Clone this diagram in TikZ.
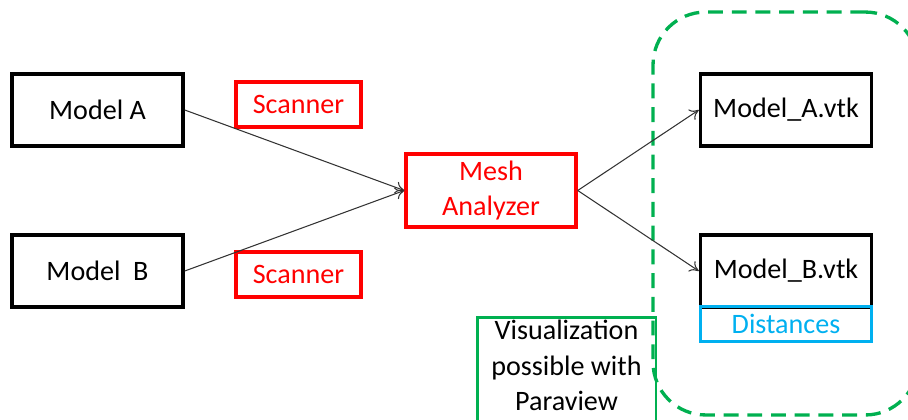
\documentclass[tikz,border=0pt]{standalone}
\usepackage{fontspec}
\setmainfont{Carlito}
\usetikzlibrary{arrows.meta}
\definecolor{offgreen}{RGB}{0,176,80}
\definecolor{offblue}{RGB}{0,176,240}
\begin{document}
\begin{tikzpicture}[
    x=0.02cm,
    y=-0.02cm,
    font=\fontsize{16}{20}\selectfont,
    modelbox/.style={draw=black, line width=2pt, minimum width=3.42cm, minimum height=1.44cm, inner sep=0pt},
    toolbox/.style={draw=red, text=red, line width=2pt, inner sep=0pt, align=center},
    link/.style={-{To[length=5pt,width=7pt]}, line width=0.6pt, black!80}
]

    % Fix the page size
    \useasboundingbox (0,0) rectangle (908,419);

    % Draw the group for Paraview
    \node[draw=offgreen, line width=1.9pt, dash pattern=on 8.5pt off 5pt, rounded corners=30pt,
          minimum width=5.3cm, minimum height=8.06cm] (group) at (785.5,213.5) {};

    % Input models
    \node[modelbox] (modelA) at (97.5,110) {Model A};
    \node[modelbox] (modelB) at (97.5,271) {Model\ \ B};

    % Scanners and analyzer
    \node[toolbox, minimum width=2.5cm, minimum height=0.9cm] (scanA) at (298.5,104.5) {Scanner};
    \node[toolbox, minimum width=2.5cm, minimum height=0.9cm] (scanB) at (298.5,274.5) {Scanner};
    \node[toolbox, minimum width=3.4cm, minimum height=1.46cm] (mesh) at (491,190.5) {Mesh\\Analyzer};

    % Output files
    \node[modelbox] (vtkA) at (786,110) {Model\_A.vtk};
    \node[modelbox] (vtkB) at (786,271) {Model\_B.vtk};
    \node[draw=offblue, text=offblue, line width=1.9pt, minimum width=3.42cm, minimum height=0.7cm,
          inner sep=0pt] (dist) at (786,324) {Distances};

    % Note on visualization
    \node[draw=offgreen, line width=1.7pt, minimum width=3.58cm, minimum height=2.3cm, inner sep=0pt,
          align=center, anchor=north] (note) at (566.5,316) {};
    \node[align=center, anchor=north, inner sep=0pt] (notetext) at (566.5,320) {Visualization\\possible with\\Paraview};

    % Draw the connectors
    \draw[link] (modelA.east) -- (mesh.west);
    \draw[link] (modelB.east) -- (mesh.west);
    \draw[link] (mesh.east) -- (vtkA.west);
    \draw[link] (mesh.east) -- (vtkB.west);

\end{tikzpicture}
\end{document}
